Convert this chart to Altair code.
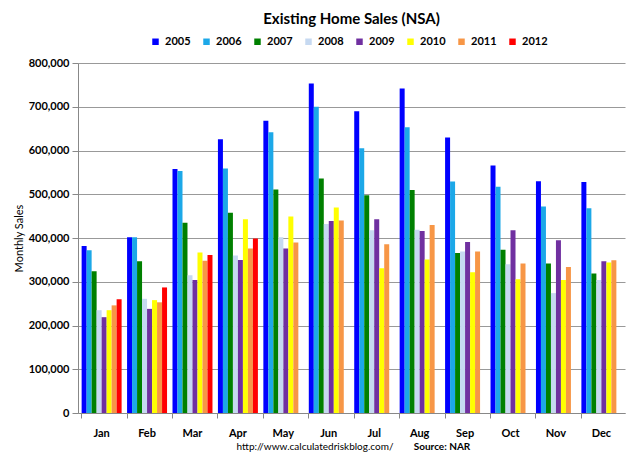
import altair as alt
import pandas as pd

months = ["Jan", "Feb", "Mar", "Apr", "May", "Jun", "Jul", "Aug", "Sep", "Oct", "Nov", "Dec"]
years = ["2005", "2006", "2007", "2008", "2009", "2010", "2011", "2012"]
colors = ["#0000FF", "#1CA8E8", "#008000", "#C6D9F1", "#7030A0", "#FFFF00", "#F79646", "#FF0000"]

s2005 = [382000, 402000, 558000, 626000, 668000, 753000, 690000, 742000, 630000, 566000, 530000, 528000]
s2006 = [372000, 402000, 553000, 559000, 642000, 700000, 605000, 653000, 529000, 517000, 472000, 468000]
s2007 = [324000, 347000, 435000, 458000, 511000, 536000, 498000, 510000, 366000, 373000, 342000, 319000]
s2008 = [235000, 261000, 315000, 360000, 402000, 432000, 418000, 419000, 369000, 340000, 274000, 304000]
s2009 = [219000, 238000, 304000, 350000, 376000, 439000, 443000, 416000, 391000, 418000, 395000, 347000]
s2010 = [235000, 258000, 367000, 443000, 449000, 470000, 331000, 351000, 322000, 306000, 304000, 344000]
s2011 = [246000, 253000, 348000, 376000, 390000, 440000, 386000, 430000, 369000, 342000, 334000, 349000]
s2012 = [260000, 287000, 361000, 399000]

series = [s2005, s2006, s2007, s2008, s2009, s2010, s2011, s2012]
rows = []
for yr, vals in zip(years, series):
    for m, v in zip(months, vals):
        rows.append({"month": m, "year": yr, "sales": v})
df = pd.DataFrame(rows)

FONT = "Lato"

bars = alt.Chart(df).mark_bar().encode(
    x=alt.X("month:N", sort=months,
            scale=alt.Scale(paddingInner=0.12, paddingOuter=0.08),
            axis=alt.Axis(title=None, labelAngle=0, labelFontWeight="bold", labelFontSize=11,
                          labelColor="#000", labelPadding=9, tickSize=5, bandPosition=0,
                          tickColor="#888", domainColor="#888", grid=False, labelFont=FONT)),
    xOffset=alt.XOffset("year:N", sort=years, scale=alt.Scale(domain=years, paddingInner=0, paddingOuter=0)),
    y=alt.Y("sales:Q", scale=alt.Scale(domain=[0, 800000], nice=False),
            axis=alt.Axis(title="Monthly Sales", values=list(range(0, 800001, 100000)), format=",d",
                          labelFontWeight="bold", labelFontSize=11, labelColor="#000", labelFont=FONT,
                          titleFont=FONT, titleFontSize=11, titleFontWeight="normal", titleColor="#000",
                          titlePadding=4, tickSize=6, tickColor="#888", domainColor="#888",
                          gridColor="#999", gridWidth=1, labelPadding=3)),
    color=alt.Color("year:N", sort=years, scale=alt.Scale(domain=years, range=colors),
                    legend=alt.Legend(title=None, orient="none", legendX=72, legendY=-27,
                                      direction="horizontal", columns=8, symbolType="square",
                                      symbolSize=42, symbolStrokeWidth=0, labelFont=FONT,
                                      labelFontSize=11, labelFontWeight="bold", labelColor="#000",
                                      columnPadding=10, labelOffset=4)),
)

note = pd.DataFrame({"t": ["x"]})
url = alt.Chart(note).mark_text(font=FONT, fontSize=10, color="#000").encode(
    x=alt.value(237), y=alt.value(384), text=alt.value("http://www.calculatedriskblog.com/"))
src = alt.Chart(note).mark_text(font=FONT, fontSize=10, fontWeight="bold", color="#000").encode(
    x=alt.value(364), y=alt.value(384), text=alt.value("Source: NAR"))

chart = alt.layer(bars, url, src).properties(
    width=547, height=350,
    title=alt.TitleParams("Existing Home Sales (NSA)", font=FONT, fontSize=15, fontWeight="bold",
                          color="#000", anchor="middle", offset=9),
    autosize=alt.AutoSizeParams(type="none"),
    padding={"left": 70, "top": 55, "right": 7, "bottom": 41},
    background="white",
).configure_view(stroke=None)

chart.save("out.html", embed_options={"renderer": "svg", "actions": False})
